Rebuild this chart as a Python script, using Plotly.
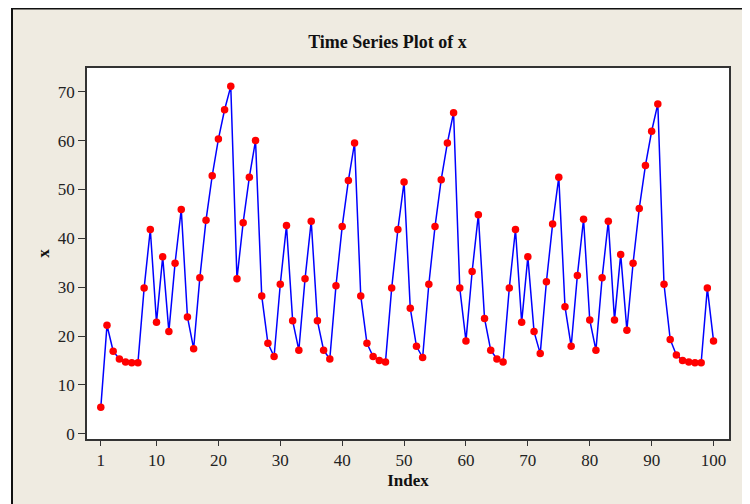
import plotly.graph_objects as go

index = list(range(1, 101))
x_values = [
    5.4, 22.2, 16.9, 15.3, 14.7, 14.5, 14.5, 29.8, 41.8, 22.8,
    36.2, 20.9, 34.9, 45.9, 23.9, 17.4, 31.9, 43.7, 52.8, 60.3,
    66.3, 71.1, 31.7, 43.2, 52.5, 60.0, 28.2, 18.5, 15.8, 30.6,
    42.6, 23.1, 17.1, 31.7, 43.5, 23.1, 17.1, 15.3, 30.3, 42.4,
    51.8, 59.5, 28.2, 18.5, 15.8, 15.0, 14.7, 29.8, 41.8, 51.5,
    25.7, 17.9, 15.6, 30.6, 42.4, 52.0, 59.5, 65.7, 29.8, 19.0,
    33.2, 44.8, 23.6, 17.1, 15.3, 14.7, 29.8, 41.8, 22.8, 36.2,
    20.9, 16.4, 31.1, 42.9, 52.5, 26.0, 17.9, 32.4, 43.9, 23.3,
    17.1, 31.9, 43.5, 23.3, 36.7, 21.2, 34.9, 46.1, 54.9, 61.9,
    67.5, 30.6, 19.3, 16.1, 15.0, 14.7, 14.5, 14.5, 29.8, 19.0,
]
x_ticks = [1, 10, 20, 30, 40, 50, 60, 70, 80, 90, 100]
y_ticks = [0, 10, 20, 30, 40, 50, 60, 70]

BEIGE = "#EFEBE1"
FONT = "Liberation Serif"

fig = go.Figure()
fig.add_trace(go.Scatter(
    x=index, y=x_values, mode="lines+markers",
    line=dict(color="#0000FF", width=1.5),
    marker=dict(color="#FF0000", size=7.5, line=dict(width=0)),
    showlegend=False,
))

# the page body adds an 8px offset; figure coordinates are page - 8
L, R, T, B = 79, 29, 60, 73
W, H = 750, 504
pw = W - L - R
ph = H - T - B

def px_x(p):
    return (p - L) / pw

def px_y(p):
    return (H - B - p) / ph

shapes = [
    dict(type="rect", xref="paper", yref="paper",
         x0=px_x(-10), x1=px_x(3), y0=px_y(520), y1=px_y(-10),
         fillcolor="white", line=dict(width=0), layer="above"),
    dict(type="line", xref="paper", yref="paper",
         x0=px_x(4), x1=px_x(4), y0=px_y(0), y1=px_y(520),
         line=dict(color="#111111", width=2), layer="above"),
    dict(type="line", xref="paper", yref="paper",
         x0=px_x(3), x1=px_x(770), y0=px_y(0.5), y1=px_y(0.5),
         line=dict(color="#111111", width=2), layer="above"),
]

axis_common = dict(
    showgrid=False, zeroline=False,
    showline=True, mirror=True, linecolor="#333333", linewidth=1.5,
    ticks="outside", tickwidth=1.2, tickcolor="#333333",
    tickfont=dict(family=FONT, size=17, color="#222222"),
)

fig.update_layout(
    width=W, height=H, autosize=False,
    margin=dict(l=L, r=R, t=T, b=B),
    paper_bgcolor=BEIGE, plot_bgcolor="white",
    title=dict(text="<b>Time Series Plot of x</b>", x=379.5 / W, xref="container",
               xanchor="center", y=1 - 34 / H, yref="container", yanchor="middle",
               font=dict(family=FONT, size=18, color="#111111")),
    xaxis=dict(range=[-1.23, 102.5], tickmode="array", tickvals=x_ticks, ticklen=5,
               title=dict(text="<b>Index</b>", font=dict(family=FONT, size=17, color="#111111"),
                          standoff=5),
               **axis_common),
    yaxis=dict(range=[-1.08, 74.85], tickmode="array", tickvals=y_ticks, ticklen=7,
               title=dict(text="<b>x</b>", font=dict(family=FONT, size=17, color="#111111"),
                          standoff=4),
               **axis_common),
    shapes=shapes,
)

fig.write_html("out.html")
